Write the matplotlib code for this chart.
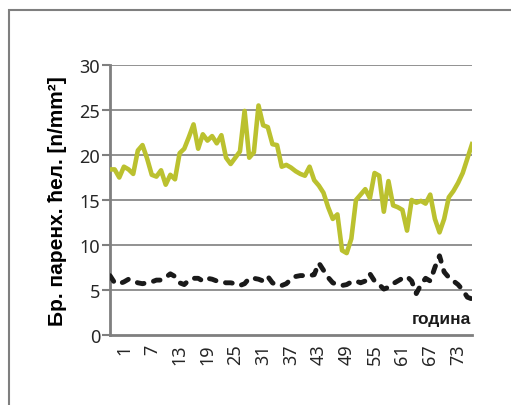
import numpy as np
import matplotlib
matplotlib.use("Agg")
import matplotlib.pyplot as plt
from matplotlib.patches import Rectangle

plt.rcParams['font.family'] = ['Noto Sans', 'DejaVu Sans']

# ──────────────────────────────────────────────
# Data
# ──────────────────────────────────────────────
years = np.arange(-2, 77)

green_vals = [
    18.4, 18.4, 17.5, 18.7, 18.4, 17.9, 20.5, 21.1, 19.6, 17.8,
    17.6, 18.3, 16.7, 17.8, 17.3, 20.2, 20.7, 22.0, 23.4, 20.7,
    22.3, 21.6, 22.1, 21.3, 22.2, 19.7, 19.0, 19.7, 20.4, 24.9,
    19.7, 20.3, 25.5, 23.3, 23.1, 21.2, 21.1, 18.7, 18.9, 18.6,
    18.2, 17.9, 17.7, 18.7, 17.2, 16.6, 15.8, 14.2, 12.9, 13.4,
    9.4, 9.1, 10.7, 15.0, 15.6, 16.2, 15.2, 18.0, 17.7, 13.7,
    17.1, 14.4, 14.2, 13.9, 11.6, 15.0, 14.7, 14.9, 14.6, 15.6,
    12.9, 11.4, 12.9, 15.3, 16.0, 16.9, 18.0, 19.6, 21.2,
]

black_vals = [
    6.6, 5.8, 5.7, 5.9, 6.2, 6.0, 5.8, 5.7, 5.8, 5.9,
    6.1, 6.1, 6.4, 6.8, 6.5, 5.8, 5.6, 6.1, 6.3, 6.3,
    6.0, 6.3, 6.2, 6.0, 5.9, 5.8, 5.8, 5.7, 5.5, 5.7,
    6.3, 6.3, 6.2, 6.0, 6.5, 5.8, 5.5, 5.5, 5.7, 6.2,
    6.5, 6.6, 6.6, 6.6, 6.7, 8.0, 7.2, 6.4, 5.8, 5.6,
    5.5, 5.6, 5.9, 6.0, 5.8, 6.0, 6.8, 6.0, 5.6, 5.1,
    5.3, 5.7, 6.0, 6.3, 6.5, 6.0, 4.6, 5.6, 6.3, 6.0,
    7.5, 8.8, 7.0, 6.4, 6.0, 5.6, 5.0, 4.2, 4.0,
]

x_ticks = [1, 7, 13, 19, 25, 31, 37, 43, 49, 55, 61, 67, 73]
y_ticks = [0, 5, 10, 15, 20, 25, 30]

y_label = "Бр. паренх. ћел. [n/mm²]"
x_title = "година"

GREEN = "#BBC12F"
GRAY = "#7f7f7f"
BOLD_FONT = ['Liberation Sans', 'DejaVu Sans']

# ──────────────────────────────────────────────
# Figure
# ──────────────────────────────────────────────
fig = plt.figure(figsize=(5.11, 4.06), dpi=100)
ax = fig.add_axes([110 / 511, 70 / 406, 362 / 511, 270 / 406])

# outer frame (partly cut off at right/bottom like the reference)
fig.patches.append(Rectangle((9 / 511, -0.05), 1.2, (406 - 10.5) / 406 + 0.05,
                             transform=fig.transFigure, fill=False,
                             edgecolor=GRAY, linewidth=1.5))

for v in y_ticks[1:]:
    ax.axhline(v, color=GRAY, linewidth=1.2, zorder=1)

ax.plot(years, green_vals, color=GREEN, linewidth=3.3,
        solid_joinstyle="round", zorder=3)
ax.plot(years, black_vals, color="#1a1a1a", linewidth=3.5,
        dashes=(1.4, 2.0), dash_capstyle="round", zorder=3)

ax.set_xlim(years[0], years[-1])
ax.set_ylim(0, 30)

ax.set_yticks(y_ticks)
ax.set_xticks(x_ticks)
ax.set_xticklabels([str(t) for t in x_ticks], rotation=90, va="top")

ax.tick_params(axis="y", length=6, width=1.5, color=GRAY, pad=1,
               labelsize=13, labelcolor="#262626")
ax.tick_params(axis="x", length=0, pad=6, labelsize=13,
               labelcolor="#262626")

for side in ["top", "right"]:
    ax.spines[side].set_visible(False)
for side in ["left", "bottom"]:
    ax.spines[side].set_color(GRAY)
    ax.spines[side].set_linewidth(2)

ax.set_ylabel(y_label, fontsize=15, fontweight="bold", family=BOLD_FONT,
              labelpad=9)
ax.text(75.8, 1.8, x_title, ha="right", va="center", family=BOLD_FONT,
        fontsize=12.5, fontweight="bold", color="#1a1a1a")

fig.savefig("out.png", dpi=100)
